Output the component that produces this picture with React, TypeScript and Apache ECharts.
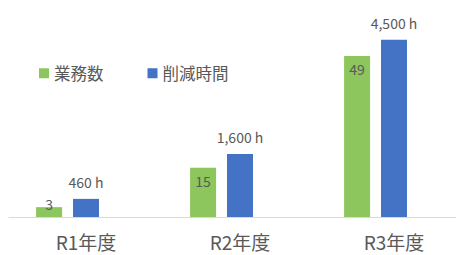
import React, { useEffect, useRef } from "react";
import * as echarts from "echarts";

const categories = ["R1年度", "R2年度", "R3年度"];
const taskCounts = [3, 15, 49];
const reducedHours = [460, 1600, 4500];
const seriesNames = ["業務数", "削減時間"];

const FONT = '"Noto Sans CJK JP", "Noto Sans", sans-serif';
const TEXT = "#595959";

export default function App() {
  const ref = useRef<HTMLDivElement>(null);
  useEffect(() => {
    if (!ref.current) return;
    const chart = echarts.init(ref.current, null, { renderer: "svg" });
    chart.setOption({
      animation: false,
      textStyle: { fontFamily: FONT },
      legend: {
        data: seriesNames,
        left: 34,
        top: 60,
        itemWidth: 10,
        itemHeight: 10,
        itemGap: 44,
        icon: "rect",
        textStyle: { fontSize: 16.5, color: TEXT, fontFamily: FONT },
      },
      grid: { left: 9, right: 0, top: 20, bottom: 38 },
      xAxis: {
        type: "category",
        data: categories,
        axisLine: { lineStyle: { color: "#d9d9d9", width: 1 } },
        axisTick: { show: false },
        axisLabel: { fontSize: 19, color: TEXT, margin: 15, fontFamily: FONT },
      },
      yAxis: [
        { type: "value", min: 0, max: 60, show: false, splitLine: { show: false } },
        { type: "value", min: 0, max: 5000, show: false, splitLine: { show: false } },
      ],
      series: [
        {
          name: seriesNames[0],
          type: "bar",
          yAxisIndex: 0,
          barWidth: 26,
          barGap: "42%",
          itemStyle: { color: "#8dc65c" },
          data: taskCounts.map((v, i) =>
            i === 0 ? { value: v, label: { position: "top", distance: -4 } } : v
          ),
          label: {
            show: true,
            position: "insideTop",
            distance: 6,
            fontSize: 14,
            color: TEXT,
            fontFamily: FONT,
          },
        },
        {
          name: seriesNames[1],
          type: "bar",
          yAxisIndex: 1,
          barWidth: 26,
          barGap: "42%",
          itemStyle: { color: "#4472c4" },
          data: reducedHours,
          label: {
            show: true,
            position: "top",
            distance: 10,
            fontSize: 14,
            color: TEXT,
            fontFamily: FONT,
            formatter: (p: any) => p.value.toLocaleString("en-US") + " h",
          },
        },
        {
          name: "spacer",
          type: "bar",
          yAxisIndex: 0,
          barWidth: 26,
          barGap: "42%",
          data: categories.map(() => "-"),
        },
      ],
    });
    return () => chart.dispose();
  }, []);
  return (
    <div
      style={{
        position: "absolute",
        left: 0,
        top: 0,
        width: 456,
        height: 255,
        overflow: "hidden",
      }}
    >
      <div ref={ref} style={{ width: 471, height: 255 }} />
    </div>
  );
}
